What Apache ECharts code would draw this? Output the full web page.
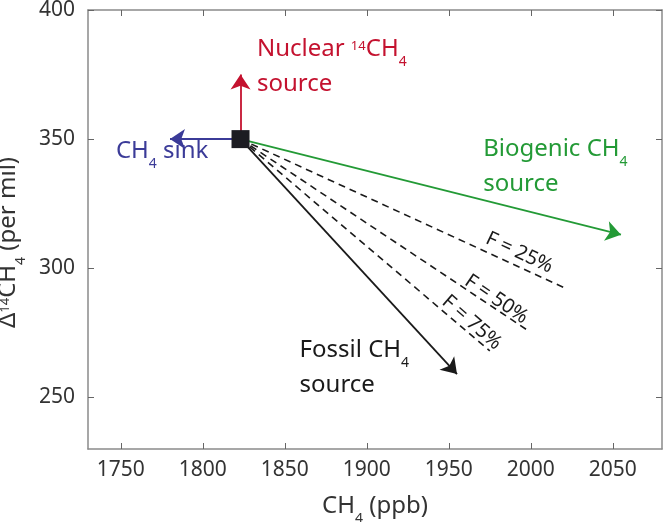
<!DOCTYPE html>
<html>
<head>
<meta charset="utf-8">
<script src="https://cdn.jsdelivr.net/npm/echarts@6/dist/echarts.min.js"></script>
<style>
  html, body { margin: 0; padding: 0; background: #fff; }
  #chart { width: 665px; height: 522px; }
</style>
</head>
<body>
<div id="chart"></div>
<script>
// axis ticks
const xTicks = [1750, 1800, 1850, 1900, 1950, 2000, 2050]
const yTicks = [250, 300, 350, 400]

// present-day atmosphere point
const origin = [1823, 350]

// arrow end points
const sinkEnd = [1780, 350]
const nuclearEnd = [1823, 375]
const biogenicEnd = [2055, 313]
const fossilEnd = [1955, 259]

// mixing lines (fossil fraction F)
const mixNames = ['F = 25%', 'F = 50%', 'F = 75%']
const mixEnds = [[2022, 292], [1998, 276], [1975, 268]]
const mixLabelAt = [[1993, 306], [1979, 288], [1964, 279]]
const mixAngles = [-25, -34, -41]

// annotation text anchors (left edge, vertical middle)
const notes = [
  { at: [1833, 378], text: 'Nuclear {sup|14}CH{sub|4}\nsource', color: '#c4122f' },
  { at: [1747, 345.5], text: 'CH{sub|4} sink', color: '#3b3b98' },
  { at: [1971, 339.5], text: 'Biogenic CH{sub|4}\nsource', color: '#239a36' },
  { at: [1859, 261.5], text: 'Fossil CH{sub|4}\nsource', color: '#1a1a1a' }
]

const FONT = 'Noto Sans'
const rich = {
  sub: { fontSize: 14, fontFamily: FONT, padding: [26, 0, 0, 0], lineHeight: 35 },
  sup: { fontSize: 13, fontFamily: FONT, padding: [0, 0, 6, 0], lineHeight: 35 }
}

const axisColor = '#8a8a8a'
const labelColor = '#333'

const boxAxis = (extra) => Object.assign({
  type: 'value',
  axisLine: { show: true, onZero: false, lineStyle: { color: axisColor, width: 1.5 } },
  axisTick: { show: true, inside: true, length: 6, lineStyle: { color: '#666', width: 1 } },
  splitLine: { show: false },
  axisLabel: { show: false }
}, extra)

const chart = echarts.init(document.getElementById('chart'), null, { renderer: 'canvas' })

chart.setOption({
  animation: false,
  backgroundColor: '#fff',
  textStyle: { fontFamily: FONT },
  grid: { left: 88, right: 3, top: 10, bottom: 73, containLabel: false, outerBoundsMode: 'none' },
  xAxis: [
    boxAxis({
      position: 'bottom', min: 1730, max: 2080,
      axisTick: { show: true, inside: true, length: 6, customValues: xTicks, lineStyle: { color: '#666' } },
      axisLabel: {
        show: true, customValues: xTicks, fontSize: 21, color: labelColor, margin: 11, fontFamily: FONT,
        formatter: v => String(v)
      },
      name: 'CH{sub|4} (ppb)',
      nameLocation: 'middle',
      nameGap: 36,
      nameTextStyle: { fontSize: 24, color: labelColor, fontFamily: FONT, rich: rich }
    }),
    boxAxis({
      position: 'top', min: 1730, max: 2080,
      axisTick: { show: true, inside: true, length: 6, customValues: xTicks, lineStyle: { color: '#666' } }
    })
  ],
  yAxis: [
    boxAxis({
      position: 'left', min: 230, max: 400,
      axisTick: { show: true, inside: true, length: 6, customValues: yTicks, lineStyle: { color: '#666' } },
      axisLabel: {
        show: true, customValues: yTicks, fontSize: 21, color: labelColor, margin: 13, fontFamily: FONT,
        formatter: v => String(v)
      },
      name: 'Δ{sup|14}CH{sub|4} (per mil)',
      nameLocation: 'middle',
      nameGap: 60,
      nameTextStyle: { fontSize: 24, color: labelColor, fontFamily: FONT, rich: rich, padding: [0, 26, 0, 0] }
    }),
    boxAxis({
      position: 'right', min: 230, max: 400,
      axisTick: { show: true, inside: true, length: 6, customValues: yTicks, lineStyle: { color: '#666' } }
    })
  ],
  series: [
    {
      // mixing lines
      type: 'lines',
      coordinateSystem: 'cartesian2d',
      silent: true,
      symbol: ['none', 'none'],
      lineStyle: { color: '#1a1a1a', width: 1.6, type: [7, 5], opacity: 1 },
      data: mixEnds.map(e => ({ coords: [origin, e] }))
    },
    {
      // source / sink arrows
      type: 'lines',
      coordinateSystem: 'cartesian2d',
      silent: true,
      symbol: ['none', 'arrow'],
      symbolSize: 15,
      lineStyle: { width: 1.8, opacity: 1 },
      data: [
        { coords: [origin, sinkEnd], lineStyle: { color: '#3b3b98' } },
        { coords: [origin, nuclearEnd], lineStyle: { color: '#c4122f' } },
        { coords: [origin, biogenicEnd], lineStyle: { color: '#239a36' } },
        { coords: [origin, fossilEnd], lineStyle: { color: '#1a1a1a' } }
      ]
    },
    {
      // present-day point
      type: 'scatter',
      silent: true,
      symbol: 'rect',
      symbolSize: 18,
      itemStyle: { color: '#1c1c22', opacity: 1 },
      data: [origin],
      z: 5
    },
    {
      // F labels
      type: 'scatter',
      silent: true,
      symbolSize: 0,
      itemStyle: { opacity: 1 },
      data: mixNames.map((n, i) => ({
        value: mixLabelAt[i],
        label: {
          show: true, position: 'inside', formatter: n, rotate: mixAngles[i],
          fontSize: 20, color: '#1a1a1a', fontFamily: FONT
        }
      }))
    },
    {
      // annotations
      type: 'scatter',
      silent: true,
      symbolSize: 0,
      itemStyle: { opacity: 1 },
      data: notes.map(n => ({
        value: n.at,
        label: {
          show: true, position: 'right', distance: 0, align: 'left', verticalAlign: 'middle',
          formatter: n.text, color: n.color, fontSize: 24, lineHeight: 35,
          fontFamily: FONT, rich: rich
        }
      }))
    }
  ]
})
</script>
</body>
</html>
